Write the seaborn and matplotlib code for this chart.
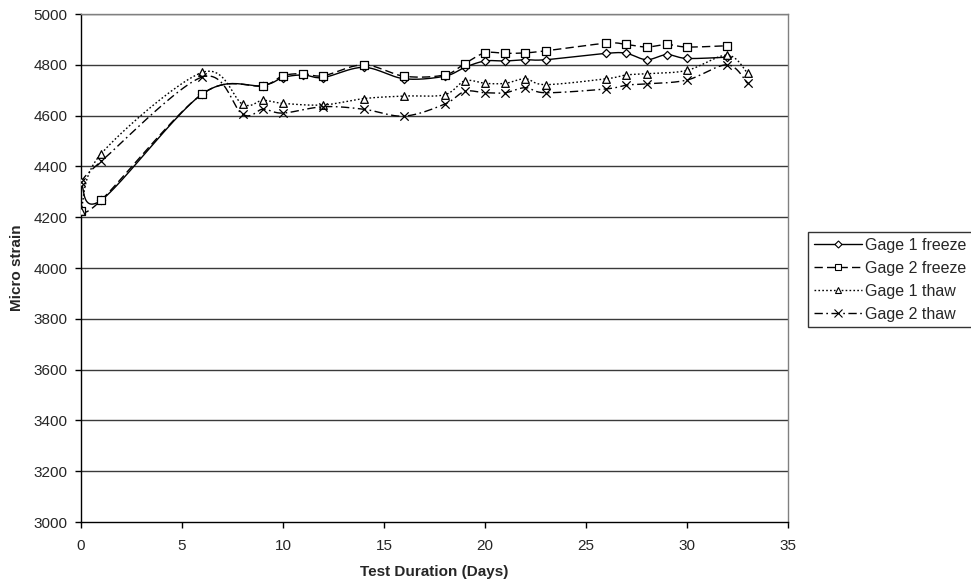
import numpy as np
import pandas as pd
import matplotlib
matplotlib.use("Agg")
import matplotlib.pyplot as plt
import seaborn as sns
from matplotlib.lines import Line2D

# ---- data ----
freeze_days = [0, 1, 6, 9, 10, 11, 12, 14, 16, 18, 19, 20, 21, 22, 23, 26, 27, 28, 29, 30, 32]
gage1_freeze = [4340, 4267, 4685, 4718, 4750, 4760, 4750, 4790, 4745, 4755, 4790, 4815, 4815, 4820, 4820,
                4845, 4845, 4820, 4840, 4825, 4830]
gage2_freeze = [4224, 4267, 4685, 4718, 4757, 4765, 4757, 4800, 4755, 4760, 4805, 4847, 4845, 4847, 4855,
                4885, 4880, 4870, 4880, 4870, 4875]

thaw_days = [0, 1, 6, 8, 9, 10, 12, 14, 16, 18, 19, 20, 21, 22, 23, 26, 27, 28, 30, 32, 33]
gage1_thaw = [4224, 4450, 4770, 4645, 4660, 4648, 4642, 4667, 4677, 4682, 4737, 4727, 4727, 4745, 4722,
              4745, 4760, 4765, 4778, 4838, 4767]
gage2_thaw = [4340, 4420, 4752, 4605, 4625, 4610, 4635, 4625, 4598, 4645, 4695, 4690, 4690, 4710, 4690,
              4705, 4720, 4725, 4740, 4800, 4727]

series_names = ["Gage 1 freeze", "Gage 2 freeze", "Gage 1 thaw", "Gage 2 thaw"]
x_ticks = [0, 5, 10, 15, 20, 25, 30, 35]
y_ticks = list(range(3000, 5001, 200))


def smooth(xs, ys, n=24):
    """Excel-like smoothed line (Catmull-Rom cubic Bezier through the points)."""
    p = np.column_stack([xs, ys]).astype(float)
    out = []
    for i in range(len(p) - 1):
        p0 = p[i - 1] if i > 0 else p[i]
        p1 = p[i]
        p2 = p[i + 1]
        p3 = p[i + 2] if i + 2 < len(p) else p[i + 1]
        c1 = p1 + (p2 - p0) / 6.0
        c2 = p2 - (p3 - p1) / 6.0
        t = np.linspace(0, 1, n, endpoint=(i == len(p) - 2))[:, None]
        seg = ((1 - t) ** 3) * p1 + 3 * ((1 - t) ** 2) * t * c1 + 3 * (1 - t) * t ** 2 * c2 + t ** 3 * p2
        out.append(seg)
    s = np.vstack(out)
    return s[:, 0], s[:, 1]


sns.set_theme(style="white")
plt.rcParams["font.family"] = ["Liberation Sans", "DejaVu Sans"]

FS = 11

fig = plt.figure(figsize=(9.71, 5.86), dpi=100)
ax = fig.add_axes([81 / 971, 1 - 522 / 586, (788 - 81) / 971, (522 - 14) / 586])

styles = [
    dict(ls="-", marker="D", ms=4.2),
    dict(ls=(0, (6, 3)), marker="s", ms=5.5),
    dict(ls=(0, (1.2, 1.6)), marker="^", ms=5.5),
    dict(ls=(0, (6, 2.5, 1.2, 2.5)), marker="x", ms=6),
]
all_data = [(freeze_days, gage1_freeze), (freeze_days, gage2_freeze),
            (thaw_days, gage1_thaw), (thaw_days, gage2_thaw)]

# grid lines
for yv in y_ticks[1:]:
    ax.axhline(yv, color="#3a3a3a", lw=1.0, zorder=0)

handles = []
for name, (xs, ys), st in zip(series_names, all_data, styles):
    sx, sy = smooth(xs, ys)
    df_line = pd.DataFrame({"x": sx, "y": sy})
    sns.lineplot(data=df_line, x="x", y="y", sort=False, estimator=None, ax=ax,
                 color="black", lw=1.0, linestyle=st["ls"], zorder=2)
    df_pts = pd.DataFrame({"x": xs, "y": ys})
    if st["marker"] == "x":
        sns.scatterplot(data=df_pts, x="x", y="y", marker="x", s=st["ms"] ** 2, color="black",
                        linewidth=0.9, ax=ax, zorder=3)
    else:
        sns.scatterplot(data=df_pts, x="x", y="y", marker=st["marker"], s=st["ms"] ** 2,
                        facecolor="white", edgecolor="black", linewidth=0.9, ax=ax, zorder=3)
    handles.append(Line2D([0], [0], color="black", lw=1.0, linestyle=st["ls"], marker=st["marker"],
                          ms=st["ms"] * 0.85, markerfacecolor="white", markeredgecolor="black",
                          markeredgewidth=0.8))

ax.set_xlim(0, 35)
ax.set_ylim(3000, 5000)
ax.set_xticks(x_ticks)
ax.set_yticks(y_ticks)
ax.tick_params(axis="both", direction="out", length=4, width=1, color="black",
               labelsize=FS, bottom=True, left=True)
ax.tick_params(axis="x", pad=8)
ax.tick_params(axis="y", pad=5.5)
for side in ["left", "bottom"]:
    ax.spines[side].set_color("black")
    ax.spines[side].set_linewidth(1.0)
for side in ["top", "right"]:
    ax.spines[side].set_color("#808080")
    ax.spines[side].set_linewidth(1.0)

ax.set_xlabel("Test Duration (Days)", fontsize=FS, fontweight="bold", labelpad=9)
ax.set_ylabel("Micro strain", fontsize=FS, fontweight="bold", labelpad=7)

leg = fig.legend(handles, series_names, loc="upper left", bbox_to_anchor=(808 / 971, 1 - 232 / 586),
                 fontsize=11.5, frameon=True, fancybox=False, edgecolor="black", handlelength=3.0,
                 handletextpad=0.2, borderpad=0.35, labelspacing=0.5, borderaxespad=0)
leg.get_frame().set_linewidth(1.0)

fig.savefig("out.png", dpi=100, facecolor="white")
